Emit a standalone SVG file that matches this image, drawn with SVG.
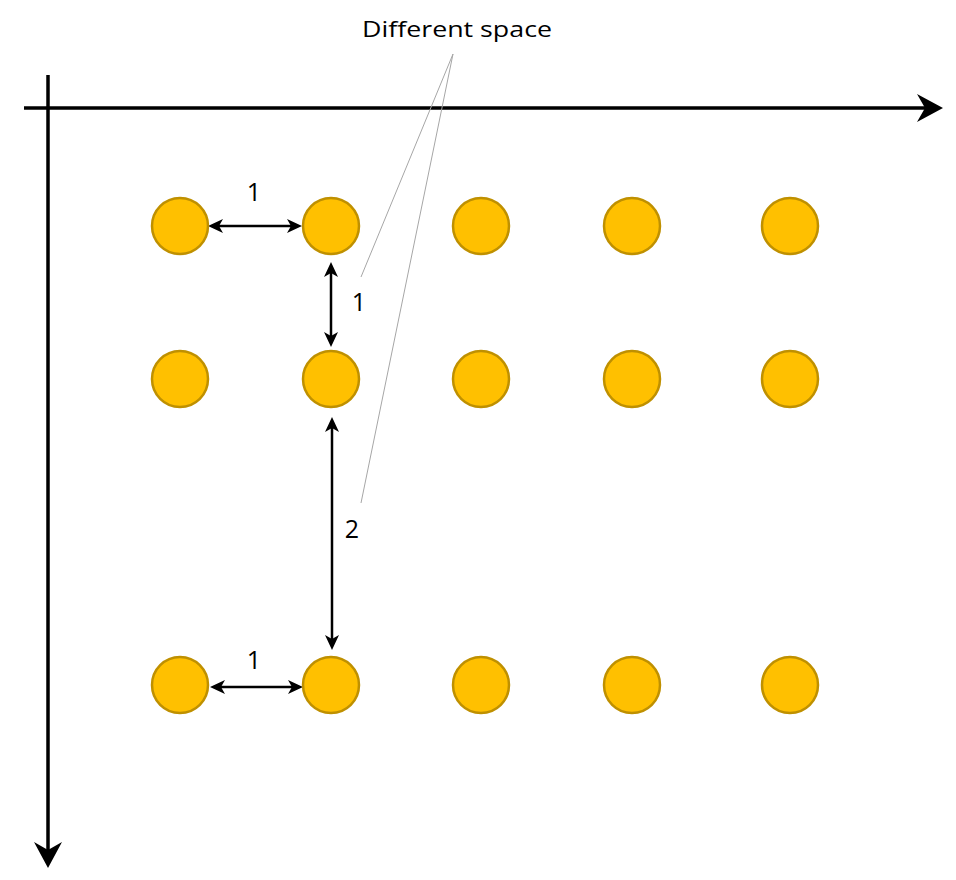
<svg xmlns="http://www.w3.org/2000/svg" width="956" height="880" viewBox="0 0 956 880">
<style>
.dot{fill:#FFC000;stroke:#BF9000;stroke-width:2.5}
.axis{stroke:#000;stroke-width:3.5;fill:none}
.dim{stroke:#000;stroke-width:2.5;fill:none}
.lead{stroke:#A6A6A6;stroke-width:1;fill:none}
.lbl{font-family:"Open Sans","Liberation Sans",sans-serif;fill:#000;text-anchor:middle}
</style>
<defs>
<marker id="big" markerUnits="userSpaceOnUse" viewBox="0 -14 26 28" markerWidth="26" markerHeight="28" refX="8" refY="0" orient="auto" overflow="visible">
<path d="M0,-14 L26,0 L0,14 L8,0 Z" fill="#000"/>
</marker>
<marker id="sm" markerUnits="userSpaceOnUse" viewBox="0 -7 15 14" markerWidth="15" markerHeight="14" refX="4" refY="0" orient="auto-start-reverse" overflow="visible">
<path d="M0,-7 L15,0 L0,7 L4,0 Z" fill="#000"/>
</marker>
</defs>
<rect width="956" height="880" fill="#fff"/>
<g id="connectors">
<line class="axis" x1="24" y1="108" x2="925" y2="108" marker-end="url(#big)"/>
<line class="axis" x1="48" y1="75" x2="48" y2="850" marker-end="url(#big)"/>
<line class="dim" x1="219" y1="226" x2="291" y2="226" marker-start="url(#sm)" marker-end="url(#sm)"/>
<line class="dim" x1="331" y1="273" x2="331" y2="336" marker-start="url(#sm)" marker-end="url(#sm)"/>
<line class="dim" x1="332" y1="428" x2="332" y2="639" marker-start="url(#sm)" marker-end="url(#sm)"/>
<line class="dim" x1="221" y1="687" x2="292" y2="687" marker-start="url(#sm)" marker-end="url(#sm)"/>
<line class="lead" x1="453" y1="54" x2="361" y2="277"/>
<line class="lead" x1="453" y1="54" x2="361" y2="503"/>
</g>
<g id="nodes">
<g id="r1"><circle class="dot" cx="180" cy="226" r="28"/><circle class="dot" cx="331" cy="226" r="28"/><circle class="dot" cx="481" cy="226" r="28"/><circle class="dot" cx="632" cy="226" r="28"/><circle class="dot" cx="790" cy="226" r="28"/></g>
<g id="r2"><circle class="dot" cx="180" cy="379" r="28"/><circle class="dot" cx="331" cy="379" r="28"/><circle class="dot" cx="481" cy="379" r="28"/><circle class="dot" cx="632" cy="379" r="28"/><circle class="dot" cx="790" cy="379" r="28"/></g>
<g id="r3"><circle class="dot" cx="180" cy="685" r="28"/><circle class="dot" cx="331" cy="685" r="28"/><circle class="dot" cx="481" cy="685" r="28"/><circle class="dot" cx="632" cy="685" r="28"/><circle class="dot" cx="790" cy="685" r="28"/></g>
</g>
<g id="labels">
<text class="lbl" x="457" y="37" font-size="22" textLength="190" lengthAdjust="spacingAndGlyphs">Different space</text>
<text class="lbl" x="254" y="201" font-size="25">1</text>
<text class="lbl" x="359" y="311" font-size="25">1</text>
<text class="lbl" x="352" y="538" font-size="25">2</text>
<text class="lbl" x="254" y="669" font-size="25">1</text>
</g>
</svg>
